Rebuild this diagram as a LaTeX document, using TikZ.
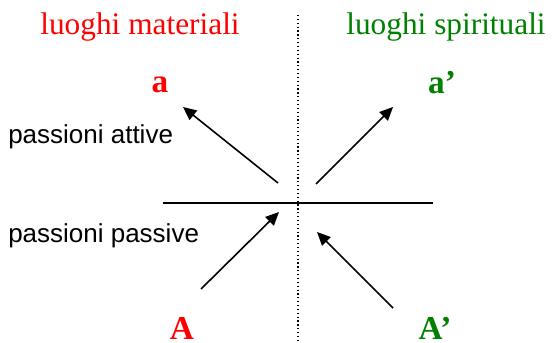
\documentclass[tikz,border=0pt]{standalone}
\usepackage{fontspec}
\setmainfont{Liberation Serif}
\newfontfamily\arialfont{Liberation Sans}
\usetikzlibrary{arrows.meta}
\definecolor{matred}{RGB}{255,0,0}
\definecolor{spigreen}{RGB}{0,128,0}

\begin{document}
\begin{tikzpicture}[x=0.75pt,y=-0.75pt,
  lbl/.style={inner sep=0pt,anchor=base},
  arr/.style={line width=1.2pt,-{Triangle[length=10pt,width=9pt]}}]
  \useasboundingbox (0,0) rectangle (552,342);
  % titles
  \node[lbl,matred] (mat) at (140,35) {\fontsize{23.5}{26}\selectfont luoghi materiali};
  \node[lbl,spigreen] (spi) at (446,35) {\fontsize{23.5}{26}\selectfont luoghi spirituali};
  % axes
  \draw[line width=0.9pt,dotted] (298,15) -- (298,342);
  \draw[line width=1.2pt] (163,203) -- (433,203);
  % letters
  \node[lbl,matred] (a) at (160,93) {\fontsize{25}{28}\selectfont\bfseries a};
  \node[lbl,spigreen] (ap) at (442,94) {\fontsize{25}{28}\selectfont\bfseries a’};
  \node[lbl,matred] (A) at (182,339) {\fontsize{25}{28}\selectfont\bfseries A};
  \node[lbl,spigreen] (Ap) at (435,339) {\fontsize{25}{28}\selectfont\bfseries A’};
  \node[lbl,anchor=base west] (att) at (8,143) {\arialfont\fontsize{19.5}{22}\selectfont passioni attive};
  \node[lbl,anchor=base west] (pas) at (8,242) {\arialfont\fontsize{19.5}{22}\selectfont passioni passive};
  % arrow ends
  \coordinate (t1) at (278,183); \coordinate (h1) at (183,107);
  \coordinate (t2) at (316,184); \coordinate (h2) at (393,107);
  \coordinate (t3) at (201,289); \coordinate (h3) at (279,212);
  \coordinate (t4) at (393,308); \coordinate (h4) at (317,232);
  \draw[arr] (t1) -- (h1);
  \draw[arr] (t2) -- (h2);
  \draw[arr] (t3) -- (h3);
  \draw[arr] (t4) -- (h4);
\end{tikzpicture}
\end{document}
